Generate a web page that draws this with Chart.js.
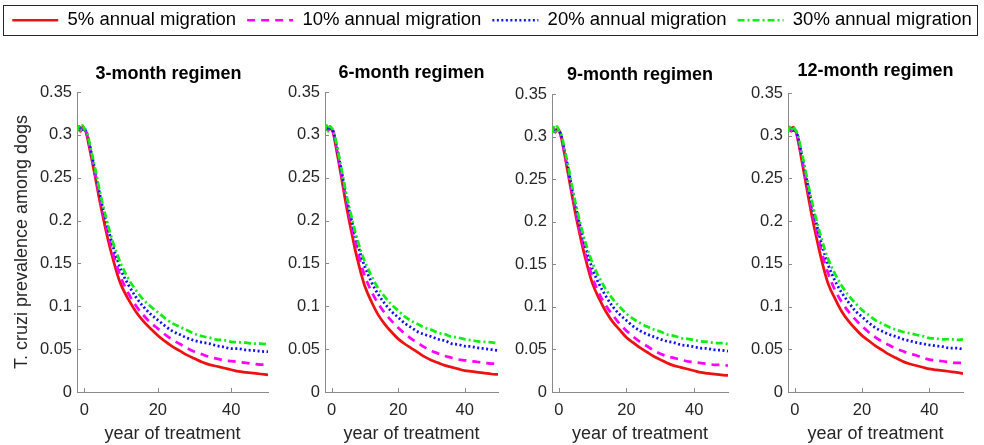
<!DOCTYPE html>
<html>
<head>
<meta charset="utf-8">
<title>Dog T. cruzi prevalence by treatment regimen</title>
<script src="https://cdn.jsdelivr.net/npm/chart.js@4.4.1/dist/chart.umd.min.js"></script>
<style>
  body { margin: 0; background: #fff; }
  #wrap { position: relative; width: 984px; height: 445px; overflow: hidden; }
  #wrap canvas { position: absolute; top: 0; }
  #legendBox { position: absolute; left: 3px; top: 5px; width: 975px; height: 31px;
               border: 1px solid #262626; box-sizing: border-box; background: #fff; }
</style>
</head>
<body>
<div id="wrap">
  <canvas id="p1" width="275" height="445" style="left:0px"></canvas>
  <canvas id="p2" width="225" height="445" style="left:280px"></canvas>
  <canvas id="p3" width="228" height="445" style="left:507px"></canvas>
  <canvas id="p4" width="241" height="445" style="left:743px"></canvas>
  <div id="legendBox"></div>
  <canvas id="legend" width="984" height="90" style="left:0px"></canvas>
</div>
<script>
// time axis (years of treatment), shared by every series
const years = [-2, -1.5, -1, -0.5, 0, 0.5, 1, 2, 3, 4, 5, 6, 7, 8, 9, 10,
  12, 14, 16, 18, 20, 22, 24, 26, 28, 30, 32, 34, 36, 38, 40, 42, 44, 46, 48, 50];

const regimens = ['3-month regimen', '6-month regimen', '9-month regimen', '12-month regimen'];
const migration = ['5% annual migration', '10% annual migration', '20% annual migration', '30% annual migration'];
const xTicks = [0, 20, 40];
const yTicks = [0, 0.05, 0.1, 0.15, 0.2, 0.25, 0.3, 0.35];

// prevalence among dogs, 3-month regimen
const m3_5  = [0.306, 0.310, 0.304, 0.309, 0.307, 0.303, 0.293, 0.272, 0.250, 0.227, 0.206, 0.186, 0.168, 0.152, 0.137, 0.125,
  0.108, 0.094, 0.083, 0.074, 0.066, 0.059, 0.053, 0.048, 0.043, 0.039, 0.035, 0.032, 0.030, 0.028, 0.026, 0.024, 0.023, 0.022, 0.021, 0.020];
const m3_10 = [0.305, 0.308, 0.306, 0.310, 0.306, 0.303, 0.295, 0.275, 0.253, 0.231, 0.211, 0.192, 0.175, 0.159, 0.145, 0.133,
  0.115, 0.101, 0.090, 0.081, 0.074, 0.067, 0.061, 0.056, 0.051, 0.047, 0.044, 0.041, 0.039, 0.037, 0.036, 0.035, 0.034, 0.033, 0.032, 0.032];
const m3_20 = [0.307, 0.305, 0.309, 0.306, 0.308, 0.304, 0.297, 0.277, 0.257, 0.235, 0.215, 0.198, 0.182, 0.167, 0.154, 0.142,
  0.125, 0.111, 0.100, 0.091, 0.084, 0.077, 0.071, 0.067, 0.063, 0.060, 0.058, 0.0565, 0.054, 0.0525, 0.0505, 0.0505, 0.049, 0.0485, 0.0475, 0.047];
const m3_30 = [0.304, 0.310, 0.305, 0.311, 0.307, 0.305, 0.298, 0.279, 0.259, 0.238, 0.219, 0.202, 0.186, 0.172, 0.160, 0.149,
  0.132, 0.119, 0.108, 0.100, 0.093, 0.086, 0.080, 0.076, 0.072, 0.068, 0.065, 0.0635, 0.061, 0.0605, 0.0585, 0.058, 0.0575, 0.0565, 0.0565, 0.0555];

// 6-month regimen
const m6_5  = [0.305, 0.309, 0.306, 0.310, 0.306, 0.302, 0.292, 0.271, 0.249, 0.226, 0.205, 0.186, 0.167, 0.151, 0.136, 0.123,
  0.105, 0.090, 0.079, 0.070, 0.062, 0.056, 0.051, 0.046, 0.041, 0.037, 0.034, 0.031, 0.029, 0.027, 0.025, 0.024, 0.023, 0.022, 0.021, 0.0205];
const m6_10 = [0.306, 0.308, 0.305, 0.309, 0.307, 0.303, 0.294, 0.274, 0.253, 0.232, 0.212, 0.194, 0.177, 0.161, 0.147, 0.135,
  0.117, 0.103, 0.092, 0.083, 0.075, 0.068, 0.062, 0.057, 0.052, 0.048, 0.045, 0.042, 0.040, 0.038, 0.037, 0.036, 0.035, 0.034, 0.033, 0.033];
const m6_20 = [0.308, 0.305, 0.310, 0.305, 0.308, 0.304, 0.296, 0.277, 0.257, 0.236, 0.217, 0.200, 0.184, 0.170, 0.157, 0.146,
  0.128, 0.114, 0.103, 0.094, 0.087, 0.080, 0.075, 0.070, 0.067, 0.0645, 0.0615, 0.060, 0.0565, 0.0555, 0.0535, 0.053, 0.0515, 0.0505, 0.0495, 0.0485];
const m6_30 = [0.305, 0.311, 0.304, 0.310, 0.308, 0.305, 0.298, 0.279, 0.259, 0.239, 0.220, 0.204, 0.188, 0.174, 0.162, 0.152,
  0.135, 0.121, 0.111, 0.102, 0.095, 0.088, 0.083, 0.079, 0.075, 0.0725, 0.069, 0.0675, 0.0645, 0.0635, 0.0615, 0.0605, 0.059, 0.0585, 0.058, 0.057];

// 9-month regimen
const m9_5  = [0.307, 0.310, 0.305, 0.309, 0.308, 0.303, 0.294, 0.273, 0.251, 0.229, 0.208, 0.189, 0.171, 0.155, 0.140, 0.127,
  0.109, 0.094, 0.082, 0.073, 0.064, 0.058, 0.052, 0.047, 0.042, 0.038, 0.034, 0.031, 0.029, 0.027, 0.025, 0.023, 0.022, 0.021, 0.020, 0.0195];
const m9_10 = [0.305, 0.309, 0.306, 0.310, 0.306, 0.303, 0.295, 0.275, 0.254, 0.233, 0.213, 0.194, 0.177, 0.161, 0.147, 0.134,
  0.115, 0.101, 0.090, 0.080, 0.072, 0.065, 0.059, 0.054, 0.049, 0.045, 0.042, 0.040, 0.038, 0.036, 0.035, 0.034, 0.033, 0.032, 0.032, 0.031];
const m9_20 = [0.306, 0.309, 0.305, 0.308, 0.307, 0.304, 0.297, 0.278, 0.258, 0.237, 0.218, 0.200, 0.184, 0.169, 0.156, 0.144,
  0.126, 0.112, 0.100, 0.091, 0.084, 0.077, 0.072, 0.068, 0.065, 0.062, 0.0595, 0.058, 0.0555, 0.0545, 0.053, 0.0515, 0.051, 0.0495, 0.049, 0.048];
const m9_30 = [0.304, 0.311, 0.306, 0.312, 0.307, 0.305, 0.299, 0.280, 0.261, 0.240, 0.221, 0.204, 0.188, 0.174, 0.162, 0.151,
  0.134, 0.120, 0.109, 0.100, 0.092, 0.086, 0.081, 0.077, 0.0735, 0.071, 0.0675, 0.066, 0.0635, 0.0625, 0.061, 0.0595, 0.059, 0.0575, 0.0575, 0.0565];

// 12-month regimen
const m12_5  = [0.306, 0.310, 0.305, 0.310, 0.307, 0.303, 0.294, 0.273, 0.251, 0.229, 0.208, 0.189, 0.171, 0.154, 0.139, 0.126,
  0.109, 0.094, 0.083, 0.074, 0.066, 0.060, 0.054, 0.049, 0.044, 0.040, 0.036, 0.033, 0.031, 0.029, 0.027, 0.026, 0.025, 0.024, 0.023, 0.0215];
const m12_10 = [0.305, 0.308, 0.306, 0.309, 0.306, 0.303, 0.296, 0.276, 0.256, 0.235, 0.215, 0.197, 0.180, 0.164, 0.150, 0.138,
  0.119, 0.105, 0.094, 0.085, 0.077, 0.070, 0.064, 0.059, 0.055, 0.051, 0.048, 0.045, 0.043, 0.040, 0.038, 0.037, 0.036, 0.035, 0.034, 0.034];
const m12_20 = [0.307, 0.305, 0.309, 0.306, 0.308, 0.304, 0.298, 0.279, 0.260, 0.240, 0.221, 0.204, 0.188, 0.173, 0.160, 0.148,
  0.130, 0.116, 0.105, 0.095, 0.088, 0.081, 0.075, 0.071, 0.0675, 0.065, 0.062, 0.060, 0.058, 0.0565, 0.055, 0.054, 0.053, 0.0515, 0.0515, 0.050];
const m12_30 = [0.304, 0.310, 0.306, 0.311, 0.308, 0.305, 0.300, 0.282, 0.263, 0.243, 0.225, 0.208, 0.193, 0.179, 0.166, 0.155,
  0.138, 0.124, 0.113, 0.104, 0.096, 0.090, 0.084, 0.080, 0.076, 0.073, 0.0705, 0.069, 0.067, 0.0655, 0.063, 0.0625, 0.0615, 0.062, 0.061, 0.0615];

const panelSeries = [
  [m3_5, m3_10, m3_20, m3_30],
  [m6_5, m6_10, m6_20, m6_30],
  [m9_5, m9_10, m9_20, m9_30],
  [m12_5, m12_10, m12_20, m12_30]
];

// line look per migration rate: solid, dashed, dotted, dash-dot
const lineStyles = [
  { color: '#ee1111', dash: [] },
  { color: '#ff00ff', dash: [8, 6] },
  { color: '#1010ff', dash: [2, 2.5] },
  { color: '#11ee11', dash: [7, 3, 2, 3] }
];

// canvas id, y axis width, top padding, right padding, title centre
const panelBoxes = [
  { id: 'p1', yWidth: 77, top: 92, right: 7, titleY: 74, titleDx: -4 },
  { id: 'p2', yWidth: 45, top: 92, right: 7, titleY: 73, titleDx: 0 },
  { id: 'p3', yWidth: 45, top: 94, right: 7, titleY: 75, titleDx: 0 },
  { id: 'p4', yWidth: 45, top: 93, right: 21, titleY: 71, titleDx: 0 }
];

const fontFamily = "'Liberation Sans', Arial, Helvetica, sans-serif";
const textColor = '#262626';
const axisColor = '#8a8a8a';

// bold title centred over the plot area
const panelTitle = {
  id: 'panelTitle',
  afterDraw(chart, args, opts) {
    const { ctx, chartArea } = chart;
    ctx.save();
    ctx.font = 'bold 18px ' + fontFamily;
    ctx.fillStyle = '#000';
    ctx.textAlign = 'center';
    ctx.textBaseline = 'middle';
    ctx.fillText(opts.text, (chartArea.left + chartArea.right) / 2 + opts.dx, opts.y);
    ctx.restore();
  }
};

// short tick marks pointing into the plot
const innerTicks = {
  id: 'innerTicks',
  afterDraw(chart) {
    const { ctx, chartArea, scales } = chart;
    ctx.save();
    ctx.strokeStyle = axisColor;
    ctx.lineWidth = 1;
    ctx.beginPath();
    scales.y.ticks.forEach(t => {
      const y = Math.round(scales.y.getPixelForValue(t.value)) + 0.5;
      ctx.moveTo(chartArea.left, y);
      ctx.lineTo(chartArea.left + 4, y);
    });
    scales.x.ticks.forEach(t => {
      const x = Math.round(scales.x.getPixelForValue(t.value)) + 0.5;
      ctx.moveTo(x, chartArea.bottom);
      ctx.lineTo(x, chartArea.bottom - 4);
    });
    ctx.stroke();
    ctx.restore();
  }
};

function makePanel(box, title, series, showYTitle) {
  const datasets = series.map((vals, i) => ({
    label: migration[i],
    data: years.map((t, k) => ({ x: t, y: vals[k] })),
    borderColor: lineStyles[i].color,
    borderDash: lineStyles[i].dash,
    borderWidth: 2.75,
    pointRadius: 0,
    fill: false,
    cubicInterpolationMode: 'monotone',
    order: 3 - i
  }));

  new Chart(document.getElementById(box.id), {
    type: 'line',
    data: { datasets: datasets },
    options: {
      responsive: false,
      animation: false,
      devicePixelRatio: 1,
      layout: { padding: { top: box.top, right: box.right, left: 0, bottom: 0 } },
      plugins: {
        legend: { display: false },
        tooltip: { enabled: false },
        panelTitle: { text: title, y: box.titleY, dx: box.titleDx }
      },
      scales: {
        x: {
          type: 'linear',
          min: -2,
          max: 50,
          afterBuildTicks: s => { s.ticks = xTicks.map(v => ({ value: v })); },
          afterFit: s => { s.height = 53; },
          grid: { display: false, drawTicks: false },
          border: { color: axisColor, width: 1 },
          ticks: { padding: 9, color: textColor, font: { family: fontFamily, size: 16.5 } },
          title: {
            display: true,
            text: 'year of treatment',
            color: textColor,
            padding: { top: 0, bottom: 0 },
            font: { family: fontFamily, size: 18 }
          }
        },
        y: {
          min: 0,
          max: 0.35,
          afterBuildTicks: s => { s.ticks = yTicks.map(v => ({ value: v })); },
          afterFit: s => { s.width = box.yWidth; },
          grid: { display: false, drawTicks: false },
          border: { color: axisColor, width: 1 },
          ticks: {
            padding: 5,
            color: textColor,
            font: { family: fontFamily, size: 16.5 },
            callback: v => String(+v.toFixed(2))
          },
          title: {
            display: showYTitle,
            text: 'T. cruzi prevalence among dogs',
            color: textColor,
            padding: { top: 11, bottom: 0 },
            font: { family: fontFamily, size: 18 }
          }
        }
      }
    },
    plugins: [panelTitle, innerTicks]
  });
}

panelBoxes.forEach((box, i) => makePanel(box, regimens[i], panelSeries[i], i === 0));

// shared legend across the top
new Chart(document.getElementById('legend'), {
  type: 'line',
  data: {
    datasets: migration.map((label, i) => ({
      label: label,
      data: [],
      borderColor: lineStyles[i].color,
      borderDash: lineStyles[i].dash,
      borderWidth: 2.5
    }))
  },
  options: {
    responsive: false,
    animation: false,
    devicePixelRatio: 1,
    layout: { padding: 0 },
    scales: { x: { display: false }, y: { display: false } },
    plugins: {
      tooltip: { enabled: false },
      legend: {
        position: 'top',
        labels: {
          usePointStyle: true,
          pointStyleWidth: 46,
          padding: 11,
          color: '#000',
          font: { family: fontFamily, size: 18.5 },
          generateLabels: chart => chart.data.datasets.map((ds, i) => ({
            text: ds.label,
            datasetIndex: i,
            hidden: false,
            pointStyle: 'line',
            strokeStyle: ds.borderColor,
            fillStyle: ds.borderColor,
            lineWidth: ds.borderWidth,
            lineDash: ds.borderDash,
            fontColor: '#000'
          }))
        }
      }
    }
  }
});
</script>
</body>
</html>
